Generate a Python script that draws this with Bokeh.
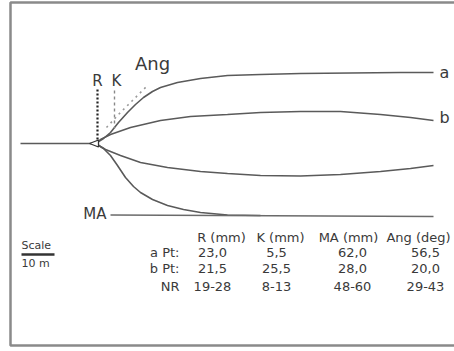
from bokeh.plotting import figure
from bokeh.models import Range1d
from bokeh.core.properties import value
from bokeh.embed import file_html
from bokeh.resources import INLINE

# --- schematic curve data (diagram units, y grows downward) ---
stem_x = [20, 92]
stem_y = [143, 143]

curve_a_x = [95, 103, 110, 118, 127, 135, 143, 152, 160, 177, 200, 227, 260, 300, 350, 400, 433]
curve_a_y = [143, 138, 132, 122, 112, 104, 97, 91, 87, 82, 78, 75, 74, 73, 72.5, 72, 72]

curve_b_x = [95, 100, 110, 130, 160, 190, 227, 260, 300, 340, 380, 410, 433]
curve_b_y = [143, 139, 134, 127, 120, 116, 114, 112, 111, 111, 114, 117, 120]

curve_c_x = [95, 105, 120, 140, 167, 200, 227, 260, 300, 340, 380, 410, 433]
curve_c_y = [143, 149, 155, 162, 167, 171, 173, 175, 175.5, 174, 171, 168, 165]

curve_d_x = [95, 103, 110, 117, 125, 133, 140, 152, 167, 183, 200, 227, 260]
curve_d_y = [143, 148, 155, 165, 177, 186, 192, 199, 205, 209, 212, 214.5, 215]

ma_x = [110, 433]
ma_y = [214.5, 216]

r_x = [97, 97]
r_y = [89, 139]
k_x = [114, 114]
k_y = [90, 128]
ang_x = [106, 118, 131, 146]
ang_y = [127, 114, 101, 86]

tri_x = [89, 98, 98]
tri_y = [143, 139.5, 146.5]

# --- table ---
columns = ["R (mm)", "K (mm)", "MA (mm)", "Ang (deg)"]
rows = ["a Pt:", "b Pt:", "NR"]
r_vals = ["23,0", "21,5", "19-28"]
k_vals = ["5,5", "25,5", "8-13"]
ma_vals = ["62,0", "28,0", "48-60"]
ang_vals = ["56,5", "20,0", "29-43"]

col_hdr_x = [221, 280, 348, 418]
col_val_x = [212, 276, 352, 425]
hdr_y = 237
row_y = [252, 268, 286]
row_label_x = 179

FONT = value("DejaVu Sans")
TXT = "#3a3a3a"
LINE = "#5a5a5a"

p = figure(width=454, height=351, x_range=Range1d(0, 454), y_range=Range1d(351, 0),
           output_backend="svg", toolbar_location=None, min_border=0)
p.axis.visible = False
p.grid.visible = False
p.outline_line_color = None
p.background_fill_color = "white"
p.border_fill_color = "white"

# frame
p.line([470, 10, 10, 470], [2, 2, 345, 345], line_color="#8a8a8a", line_width=2.5)

# curves
p.line(stem_x, stem_y, line_color=LINE, line_width=1.5)
p.line(curve_a_x, curve_a_y, line_color=LINE, line_width=1.6)
p.line(curve_b_x, curve_b_y, line_color=LINE, line_width=1.6)
p.line(curve_c_x, curve_c_y, line_color=LINE, line_width=1.6)
p.line(curve_d_x, curve_d_y, line_color=LINE, line_width=1.6)
p.line(ma_x, ma_y, line_color="#6a6a6a", line_width=1.3)

# measurement guides
p.line(r_x, r_y, line_color="#222222", line_width=2.2, line_dash="2 2")
p.line(k_x, k_y, line_color="#888888", line_width=1.4, line_dash="3 3")
p.line(ang_x, ang_y, line_color="#9a9a9a", line_width=1.6, line_dash="2 4")
p.patch(tri_x, tri_y, fill_color="white", line_color="#333333", line_width=1.3)

# labels
p.text(x=[97, 116], y=[80, 80], text=["R", "K"], text_font=FONT, text_font_size="15px",
       text_color=TXT, text_align="center", text_baseline="middle")
p.text(x=[152], y=[63], text=["Ang"], text_font=FONT, text_font_size="18px",
       text_color=TXT, text_align="center", text_baseline="middle")
p.text(x=[444, 444], y=[72, 117], text=["a", "b"], text_font=FONT, text_font_size="16px",
       text_color=TXT, text_align="center", text_baseline="middle")
p.text(x=[106], y=[213], text=["MA"], text_font=FONT, text_font_size="15px",
       text_color=TXT, text_align="right", text_baseline="middle")

# scale
p.text(x=[21], y=[245], text=["Scale"], text_font=FONT, text_font_size="11px",
       text_color=TXT, text_align="left", text_baseline="middle")
p.line([21, 54], [254, 254], line_color="#333333", line_width=2.5)
p.text(x=[21], y=[263], text=["10 m"], text_font=FONT, text_font_size="11px",
       text_color=TXT, text_align="left", text_baseline="middle")

# table
p.text(x=col_hdr_x, y=[hdr_y] * len(columns), text=columns, text_font=FONT,
       text_font_size="13px", text_color=TXT, text_align="center", text_baseline="middle")
p.text(x=[row_label_x] * len(rows), y=row_y, text=rows, text_font=FONT,
       text_font_size="13px", text_color=TXT, text_align="right", text_baseline="middle")
for cx, vals in zip(col_val_x, [r_vals, k_vals, ma_vals, ang_vals]):
    p.text(x=[cx] * len(vals), y=row_y, text=vals, text_font=FONT,
           text_font_size="13px", text_color=TXT, text_align="center", text_baseline="middle")

open("out.html", "w").write(file_html(p, INLINE))
